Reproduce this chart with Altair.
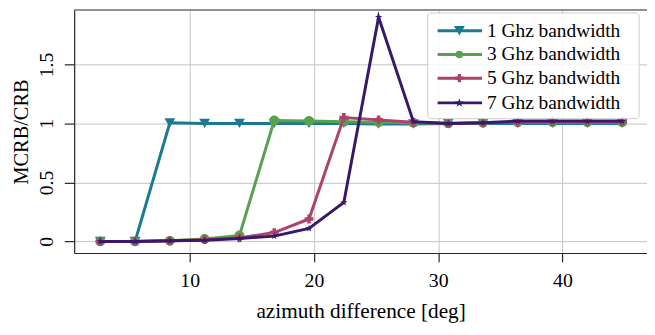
import altair as alt
import pandas as pd

azimuth = [2.8, 5.6, 8.4, 11.2, 14.0, 16.8, 19.6, 22.4, 25.2, 28.0, 30.8, 33.6, 36.4, 39.2, 42.0, 44.8]
bw1 = [0.0, 0.0, 1.005, 1.0, 1.0, 1.0, 1.0, 1.0, 0.995, 0.995, 1.0, 1.0, 1.0, 1.0, 1.0, 1.0]
bw3 = [0.0, 0.0, 0.005, 0.02, 0.05, 1.025, 1.02, 1.015, 1.01, 1.005, 1.0, 1.005, 1.01, 1.01, 1.01, 1.01]
bw5 = [0.0, 0.0, 0.005, 0.015, 0.03, 0.075, 0.19, 1.05, 1.03, 1.01, 1.0, 1.005, 1.01, 1.015, 1.015, 1.015]
bw7 = [0.0, 0.0, 0.005, 0.01, 0.025, 0.045, 0.11, 0.33, 1.9, 1.015, 1.0, 1.005, 1.02, 1.02, 1.02, 1.02]

series_names = ["1 Ghz bandwidth", "3 Ghz bandwidth", "5 Ghz bandwidth", "7 Ghz bandwidth"]
series_values = [bw1, bw3, bw5, bw7]
colors = ["#1b7a93", "#58a14e", "#ab436a", "#3a176a"]
STAR = ("M0,-1L0.225,-0.309L0.951,-0.309L0.363,0.118L0.588,0.809L0,0.382"
        "L-0.588,0.809L-0.363,0.118L-0.951,-0.309L-0.225,-0.309Z")
shapes = ["triangle-down", "circle", "cross", STAR]
sizes = [120, 60, 70, 90]

x_ticks = [10, 20, 30, 40]
y_ticks = [0, 0.5, 1, 1.5]

rows = []
for name, vals in zip(series_names, series_values):
    for a, v in zip(azimuth, vals):
        rows.append({"azimuth": a, "value": v, "series": name})
df = pd.DataFrame(rows)

FONT = "Liberation Serif"
W, H = 580, 246

cscale = alt.Scale(domain=series_names, range=colors)
shscale = alt.Scale(domain=series_names, range=shapes)
szscale = alt.Scale(domain=series_names, range=sizes)

xenc = alt.X("azimuth:Q",
             scale=alt.Scale(domain=[0.7, 46.8], nice=False, zero=False),
             axis=alt.Axis(values=x_ticks, format="d", title="azimuth difference [deg]",
                           tickSize=9, labelPadding=9, titlePadding=10, titleFontSize=21.5))
yenc = alt.Y("value:Q",
             scale=alt.Scale(domain=[-0.098, 1.961], nice=False, zero=False),
             axis=alt.Axis(values=y_ticks, format="~g", title="MCRB/CRB",
                           tickSize=10, labelAngle=270, labelAlign="center",
                           labelBaseline="bottom", labelPadding=8, titlePadding=5,
                           titleFontSize=20.6))

base = alt.Chart(df)
layers = []
for name in series_names:
    sub = base.transform_filter(alt.datum.series == name)
    layers.append(sub.mark_line(strokeWidth=3, clip=True).encode(
        x=xenc, y=yenc, color=alt.Color("series:N", scale=cscale, legend=None)))
    layers.append(sub.mark_point(filled=True, opacity=1, clip=True).encode(
        x=xenc, y=yenc,
        color=alt.Color("series:N", scale=cscale, legend=None),
        shape=alt.Shape("series:N", scale=shscale, legend=None),
        size=alt.Size("series:N", scale=szscale, legend=None)))

one = alt.Chart(pd.DataFrame({"k": [0]}))
layers.append(one.mark_rule(color="#262626", strokeWidth=1.2).encode(
    x=alt.value(0), x2=alt.value(W), y=alt.value(0)))

# legend
layers.append(one.mark_rect(fill="white", fillOpacity=0.85, stroke="#cccccc",
                            strokeWidth=1, cornerRadius=3).encode(
    x=alt.value(358), x2=alt.value(572), y=alt.value(3), y2=alt.value(110)))
leg_y = [21, 45, 69, 94]
for name, col, shp, sz, ly in zip(series_names, colors, shapes, sizes, leg_y):
    layers.append(one.mark_rule(color=col, strokeWidth=3).encode(
        x=alt.value(368), x2=alt.value(413), y=alt.value(ly)))
    layers.append(one.mark_point(filled=True, opacity=1, color=col, shape=shp, size=sz).encode(
        x=alt.value(390), y=alt.value(ly)))
    layers.append(one.mark_text(text=name, font=FONT, fontSize=19.6, align="left",
                                baseline="middle", color="black").encode(
        x=alt.value(418), y=alt.value(ly)))

chart = alt.layer(*layers).properties(
    width=W, height=H,
    autosize=alt.AutoSizeParams(type="none"),
    padding={"left": 67, "top": 0, "right": 0, "bottom": 81},
).configure_view(stroke=None).configure_axis(
    domainColor="#262626", domainWidth=1.2, tickColor="#262626", tickWidth=1.2,
    gridColor="#c4c4c4", gridWidth=1, labelFont=FONT, labelFontSize=20,
    labelColor="black", titleFont=FONT, titleFontSize=20, titleFontWeight="normal",
    titleColor="black", grid=True,
)

chart.save("out.html", embed_options={"renderer": "svg", "actions": False})
